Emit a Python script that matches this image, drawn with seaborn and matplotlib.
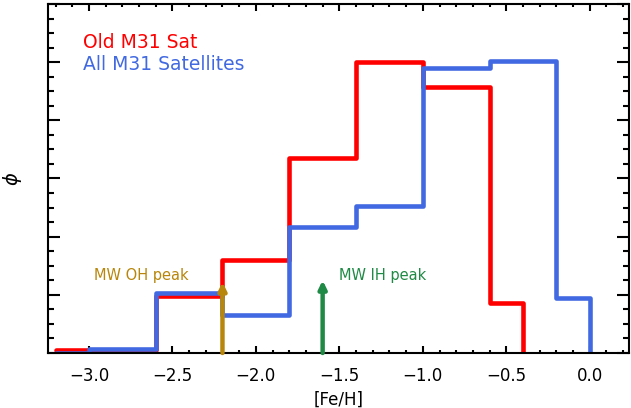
import numpy as np
import pandas as pd
import matplotlib
matplotlib.use('Agg')
import matplotlib.pyplot as plt
from matplotlib.ticker import MultipleLocator
import seaborn as sns

# histogram edges and heights
old_edges = [-3.2, -3.0, -2.6, -2.2, -1.8, -1.4, -1.0, -0.6, -0.4]
old_phi = [0.05, 0.05, 0.98, 1.6, 3.36, 5.0, 4.57, 0.86]
all_edges = [-3.2, -3.0, -2.6, -2.2, -1.8, -1.4, -1.0, -0.6, -0.2, 0.0]
all_phi = [0.0, 0.07, 1.04, 0.66, 2.17, 2.52, 4.9, 5.02, 0.95]

# Milky Way halo peaks
peak_names = ['MW OH peak', 'MW IH peak']
peak_feh = [-2.2, -1.6]
peak_height = [1.22, 1.25]
peak_colors = ['#b8860b', '#1f8a45']

sns.set_style('white')
plt.rcParams['font.family'] = ['DejaVu Sans']
plt.rcParams['text.color'] = 'black'
plt.rcParams['axes.labelcolor'] = 'black'
plt.rcParams['xtick.color'] = 'black'
plt.rcParams['ytick.color'] = 'black'

fig = plt.figure(figsize=(6.31, 4.08), dpi=100)
ax = fig.add_axes([0.0761, 0.1348, 0.9207, 0.8554])

old = pd.DataFrame({'feh': old_edges, 'phi': old_phi + [0.0]})
allsat = pd.DataFrame({'feh': all_edges, 'phi': all_phi + [0.0]})

sns.lineplot(data=old, x='feh', y='phi', drawstyle='steps-post', estimator=None,
             color='red', lw=3.3, ax=ax)
sns.lineplot(data=allsat, x='feh', y='phi', drawstyle='steps-post', estimator=None,
             color='royalblue', lw=3.3, ax=ax)

for name, x, h, c in zip(peak_names, peak_feh, peak_height, peak_colors):
    ax.annotate('', xy=(x, h), xytext=(x, 0),
                arrowprops=dict(arrowstyle='-|>,head_length=0.45,head_width=0.22',
                                color=c, lw=3.2, shrinkA=0, shrinkB=0))

ax.text(-2.4, 1.33, peak_names[0], color=peak_colors[0], fontsize=10.5, ha='right', va='center')
ax.text(-1.5, 1.33, peak_names[1], color=peak_colors[1], fontsize=10.5, ha='left', va='center')

ax.text(-3.035, 5.33, 'Old M31 Sat', color='red', fontsize=13.5, va='center')
ax.text(-3.035, 4.96, 'All M31 Satellites', color='royalblue', fontsize=13.5, va='center')

ax.set_xlim(-3.245, 0.235)
ax.set_ylim(0, 6)
ax.xaxis.set_major_locator(MultipleLocator(0.5))
ax.xaxis.set_minor_locator(MultipleLocator(0.1))
ax.yaxis.set_major_locator(MultipleLocator(1))
ax.yaxis.set_minor_locator(MultipleLocator(0.25))
ax.set_xticks([-3.0, -2.5, -2.0, -1.5, -1.0, -0.5, 0.0])
ax.set_xticklabels(['\u22123.0', '\u22122.5', '\u22122.0', '\u22121.5', '\u22121.0', '\u22120.5', '0.0'])
ax.set_yticklabels([])

ax.tick_params(axis='x', which='major', direction='in', length=5, width=1.5,
               top=True, bottom=True, labelsize=12, pad=10)
ax.tick_params(axis='x', which='minor', direction='in', length=2.5, width=1.5,
               top=True, bottom=True)
ax.tick_params(axis='y', which='major', direction='in', length=8.5, width=1.5,
               left=True, right=True)
ax.tick_params(axis='y', which='minor', direction='in', length=4.5, width=1.5,
               left=True, right=True)

for s in ax.spines.values():
    s.set_color('black')
    s.set_linewidth(1.5)

ax.set_xlabel('[Fe/H]', fontsize=12, labelpad=4)
ax.set_ylabel(r'$\phi$', fontsize=14, labelpad=14)

fig.savefig('out.png', dpi=100)
